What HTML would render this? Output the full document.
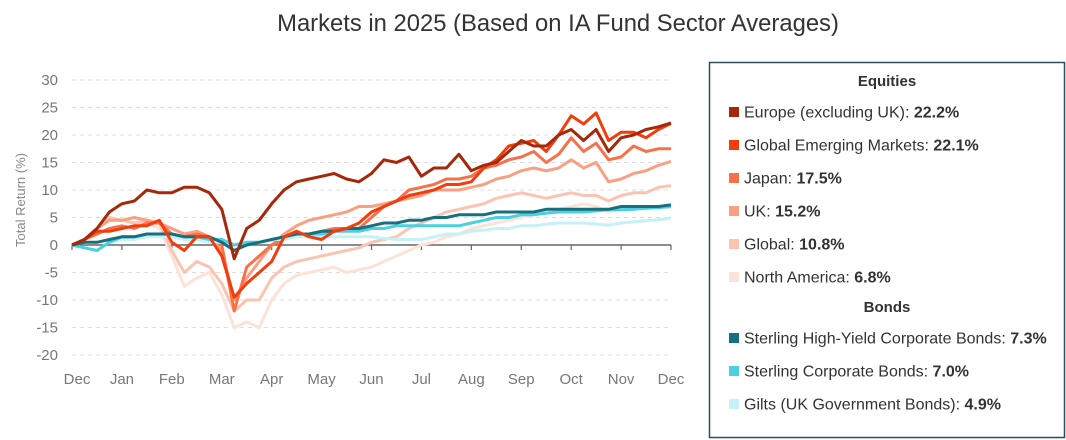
<!DOCTYPE html>
<html><head><meta charset="utf-8"><style>
body{margin:0;background:#fff;font-family:"Liberation Sans",sans-serif;}
svg{display:block}
</style></head><body>
<svg id="chart" width="1066" height="440" xmlns="http://www.w3.org/2000/svg">
<text x="558" y="31" text-anchor="middle" font-size="23.8" fill="#333">Markets in 2025 (Based on IA Fund Sector Averages)</text>
<text transform="translate(25,200) rotate(-90)" text-anchor="middle" font-size="13" fill="#888">Total Return (%)</text>
<g id="grid"></g><g id="axes"></g><g id="lines"></g>
<g id="legend">
<rect x="709.5" y="62.5" width="355" height="375" fill="#fff" stroke="#2d4f55" stroke-width="1.5"/>
</g>
</svg>
<script>
const months = ["Dec","Jan","Feb","Mar","Apr","May","Jun","Jul","Aug","Sep","Oct","Nov","Dec"];
const yTicks = [30,25,20,15,10,5,0,-5,-10,-15,-20];
const t = [];
for (let i=0;i<=48;i++) t.push(i*0.25);
const europe = [0,1,3,6,7.5,8,10,9.5,9.5,10.5,10.5,9.5,6.5,-2.5,3,4.5,7.5,10,11.5,12,12.5,13,12,11.5,13,15.5,15,16,12.5,14,14,16.5,13.5,14.5,15,17,19,18,18,20,21,19,21,17,19.5,20,21,21.5,22.2];
const emerging = [0,1,2.5,2.5,3,3.5,3.5,4.5,0.5,-1,1.5,1.5,-2,-9.5,-7,-5,-3,1.5,2.5,1.5,1,2.5,3,4,6,7,8,9,9.5,10,11,11,11.5,14,15.5,18,18.5,19,17,20,23.5,22,24,19,20.5,20.5,19.5,21,22.1];
const japan = [0,1,2,3,3.5,3,4,4,2,1.5,2,1.5,0,-12,-4,-2,0,1,2,2,2.5,3,3,3,5,7,8,10,10.5,11,12,12,12.5,14,14.5,15.5,16,17,15,16.5,19.5,17,18.5,15.5,16,18,17,17.5,17.5];
const uk = [0,1,3,4.5,4.5,5,4.5,4,3,2,2.5,1.5,-1,-10,-6,-3,0,2,3.5,4.5,5,5.5,6,7,7,7.5,8,8.5,9,10,10,10,10.5,11,12,12.5,13.5,14,13.5,14,15.5,14,15,11.5,12,13,13.5,14.5,15.2];
const globalEq = [0,1,3,5,4.5,4,4.5,4,-1,-5,-3,-4,-7,-12,-10,-10,-6,-4,-3,-2.5,-2,-1.5,-1,-0.5,0.5,1,1.5,3,4,5,6,6.5,7,7.5,8.5,9,9.5,9,8.5,9,9.5,9,9,8,9,9.5,9.5,10.5,10.8];
const northAmerica = [0,1,3,4.5,4.5,4,4,3,-2,-7.5,-6,-5,-9,-15,-14,-15,-10,-7,-5.5,-5,-4.5,-4,-5,-4.5,-4,-3,-2,-1,0,0.5,1.5,2,3,3.5,4,4.5,5,5.5,6,6.5,7,7.5,7,6,6.5,6.5,7,7,6.8];
const highYield = [0,0.5,0.5,1,1.5,1.5,2,2,2,1.5,1.5,1.5,0.5,-1,0,0.5,1,1.5,2,2,2.5,2.5,3,3,3.5,4,4,4.5,4.5,5,5,5.5,5.5,5.5,6,6,6,6,6.5,6.5,6.5,6.5,6.5,6.5,7,7,7,7,7.3];
const corporate = [0,-0.5,-1,0.5,1.5,1.5,2,2,2,1.5,1.5,1,1,0,0.5,0.5,1,1.5,2,2,2,2.5,2.5,2.5,3,3,3.5,3.5,3.5,3.5,3.5,3.5,4,4.5,5,5,5.5,5.5,5.8,6,6,6,6.2,6.4,6.4,6.5,6.7,6.8,7.0];
const gilts = [0,-0.5,-1,0.5,1,1,1.5,1.5,1.5,1,1,0.5,0.5,0,0.5,0.5,1,1,1.5,1.5,1.5,1.5,1.5,1.5,1.5,1.2,1,1,1,1.5,2,2,2.5,2.7,3,3,3.5,3.5,3.8,4,4,4,3.8,3.6,4,4.2,4.4,4.6,4.9];
const seriesNames = ["North America","Global","UK","Japan","Gilts (UK Government Bonds)","Sterling Corporate Bonds","Sterling High-Yield Corporate Bonds","Global Emerging Markets","Europe (excluding UK)"];
const seriesData = [northAmerica,globalEq,uk,japan,gilts,corporate,highYield,emerging,europe];
const seriesColors = ["#fde2d8","#fbc3b1","#f9a083","#f7714b","#c5f1f7","#4ccfe0","#16707e","#f33c0c","#a5280a"];
const seriesKeys = ["north-america","global","uk","japan","gilts","corporate-bonds","high-yield-bonds","emerging-markets","europe"];

const X0=72, X1=671, Y0=245, PPU=5.5;
const xS = m => X0 + m*(X1-X0)/12;
const yS = v => Y0 - v*PPU;
const NS="http://www.w3.org/2000/svg";
function mk(tag, attrs, parent){const e=document.createElementNS(NS,tag);for(const k in attrs)e.setAttribute(k,attrs[k]);parent.appendChild(e);return e;}
const grid=document.getElementById('grid'), axes=document.getElementById('axes'), lines=document.getElementById('lines');
yTicks.forEach(v=>{
  if(v!==0){const g=mk('line',{x1:X0,x2:X1,y1:yS(v),y2:yS(v),stroke:'#ddd','stroke-dasharray':'4,4'},grid);
  
  }
  const tx=mk('text',{x:58,y:yS(v)+5,'text-anchor':'end','font-size':15,fill:'#777'},axes);
  tx.textContent=v;
  
  
});
const zl=mk('line',{x1:X0,x2:X1,y1:Y0,y2:Y0,stroke:'#666','stroke-width':1.5},axes);


months.forEach((m,i)=>{
  const tk=mk('line',{x1:xS(i),x2:xS(i),y1:Y0,y2:Y0+5,stroke:'#666','stroke-width':1.2},axes);
  
  
  const lx = i===0 ? xS(i)+5 : xS(i);
  const tx=mk('text',{x:lx,y:384,'text-anchor':'middle','font-size':15,fill:'#777'},axes);
  tx.textContent=m;
  
  
});
seriesData.forEach((arr,si)=>{
  const d=arr.map((v,i)=>(i?'L':'M')+xS(t[i]).toFixed(1)+','+yS(v).toFixed(1)).join('');
  const p=mk('path',{d:d,fill:'none',stroke:seriesColors[si],'stroke-width':3,'stroke-linejoin':'round'},lines);
  
  
});
const leg=document.getElementById('legend');
const rows=[["h","Equities",81],["s",8,112],["s",7,145],["s",3,178],["s",2,211],["s",1,244],["s",0,277],["h","Bonds",307],["s",6,338],["s",5,371],["s",4,404]];
const valMap={8:"22.2%",7:"22.1%",3:"17.5%",2:"15.2%",1:"10.8%",0:"6.8%",6:"7.3%",5:"7.0%",4:"4.9%"};
rows.forEach(r=>{
  if(r[0]==="h"){const h=mk('text',{x:887,y:r[2]+5,'text-anchor':'middle','font-size':15,'font-weight':'bold',fill:'#333'},leg);
    h.textContent=r[1];
    
    
  } else {
    const si=r[1];
    const g=mk('g',{},leg);
    
    
    mk('rect',{x:729,y:r[2]-5,width:10,height:10,fill:seriesColors[si]},g);
    const tx=mk('text',{x:744,y:r[2]+5.5,'font-size':16,fill:'#333'},g);
    tx.textContent=seriesNames[si]+": ";
    const b=mk('tspan',{'font-weight':'bold'},tx);
    b.textContent=valMap[si];
  }
});
</script>
</body></html>
